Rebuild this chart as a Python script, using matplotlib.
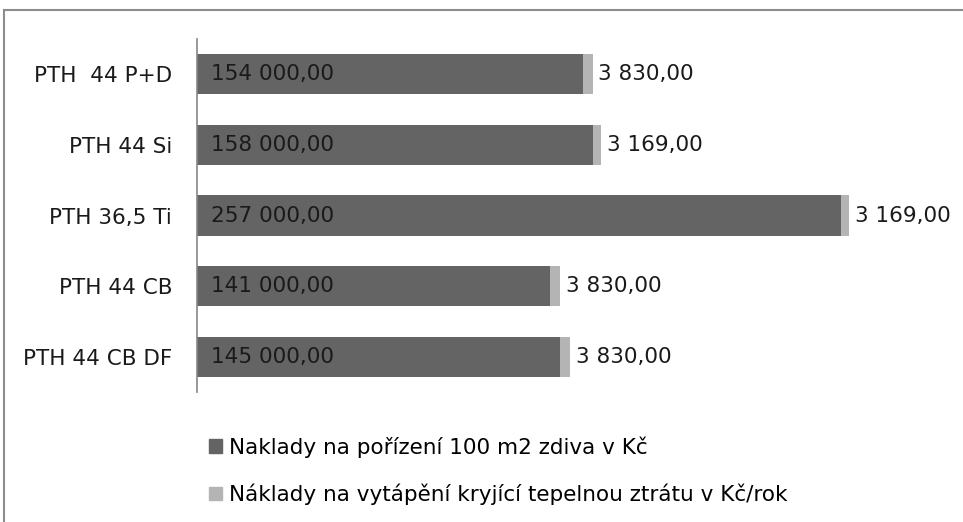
import matplotlib
matplotlib.use("Agg")
import matplotlib.pyplot as plt
from matplotlib.lines import Line2D
import numpy as np

CATEGORIES = ["PTH  44 P+D", "PTH 44 Si", "PTH 36,5 Ti", "PTH 44 CB", "PTH 44 CB DF"]
NAKLADY_PORIZENI = [154000, 158000, 257000, 141000, 145000]
NAKLADY_VYTAPENI = [3830, 3169, 3169, 3830, 3830]
LEGEND_LABELS = ["Naklady na pořízení 100 m2 zdiva v Kč",
                 "Náklady na vytápění kryjící tepelnou ztrátu v Kč/rok"]

DARK = "#646464"
LIGHT = "#b4b4b4"
FS = 15.5


def fmt(v):
    s = f"{v:,.2f}"
    return s.replace(",", " ").replace(".", ",")


plt.rcParams["font.family"] = ["DejaVu Sans"]
fig = plt.figure(figsize=(9.63, 5.22), dpi=100)
ax = fig.add_axes([197 / 963, 1 - 392 / 522, (949 - 197) / 963, (392 - 39) / 522])

y = np.arange(len(CATEGORIES))
ax.barh(y, NAKLADY_PORIZENI, height=0.57, color=DARK)
ax.barh(y, NAKLADY_VYTAPENI, left=NAKLADY_PORIZENI, height=0.57, color=LIGHT)
ax.set_xlim(0, 300000)
ax.set_ylim(len(CATEGORIES) - 0.5, -0.5)

for yi, a, b in zip(y, NAKLADY_PORIZENI, NAKLADY_VYTAPENI):
    ax.annotate(fmt(a), (0, yi), xytext=(10, 0), textcoords="offset points",
                va="center", ha="left", fontsize=FS, color="#1a1a1a")
    ax.annotate(fmt(b), (a + b, yi), xytext=(4, 0), textcoords="offset points",
                va="center", ha="left", fontsize=FS, color="#1a1a1a")

ax.set_yticks(y)
ax.set_yticklabels(CATEGORIES, fontsize=FS, color="#1a1a1a")
ax.tick_params(axis="y", length=0, pad=18)
ax.set_xticks([])
for s in ["top", "right", "bottom"]:
    ax.spines[s].set_visible(False)
ax.spines["left"].set_color("#868686")
ax.spines["left"].set_linewidth(1.2)

# outer chart border (top and left visible in the reference)
fig.add_artist(Line2D([4 / 963, 1.0], [1 - 10 / 522] * 2, transform=fig.transFigure,
                      color="#8c8c8c", lw=1.5))
fig.add_artist(Line2D([4 / 963] * 2, [0.0, 1 - 10 / 522], transform=fig.transFigure,
                      color="#8c8c8c", lw=1.5))

# legend
handles = [plt.Rectangle((0, 0), 1, 1, color=c) for c in (DARK, LIGHT)]
fig.legend(handles, LEGEND_LABELS, loc="upper left",
           bbox_to_anchor=(190 / 963, 1 - 417 / 522), frameon=False, fontsize=FS,
           handlelength=0.6, handleheight=0.6, handletextpad=0.3, labelspacing=1.2)

fig.savefig("out.png", dpi=100)
